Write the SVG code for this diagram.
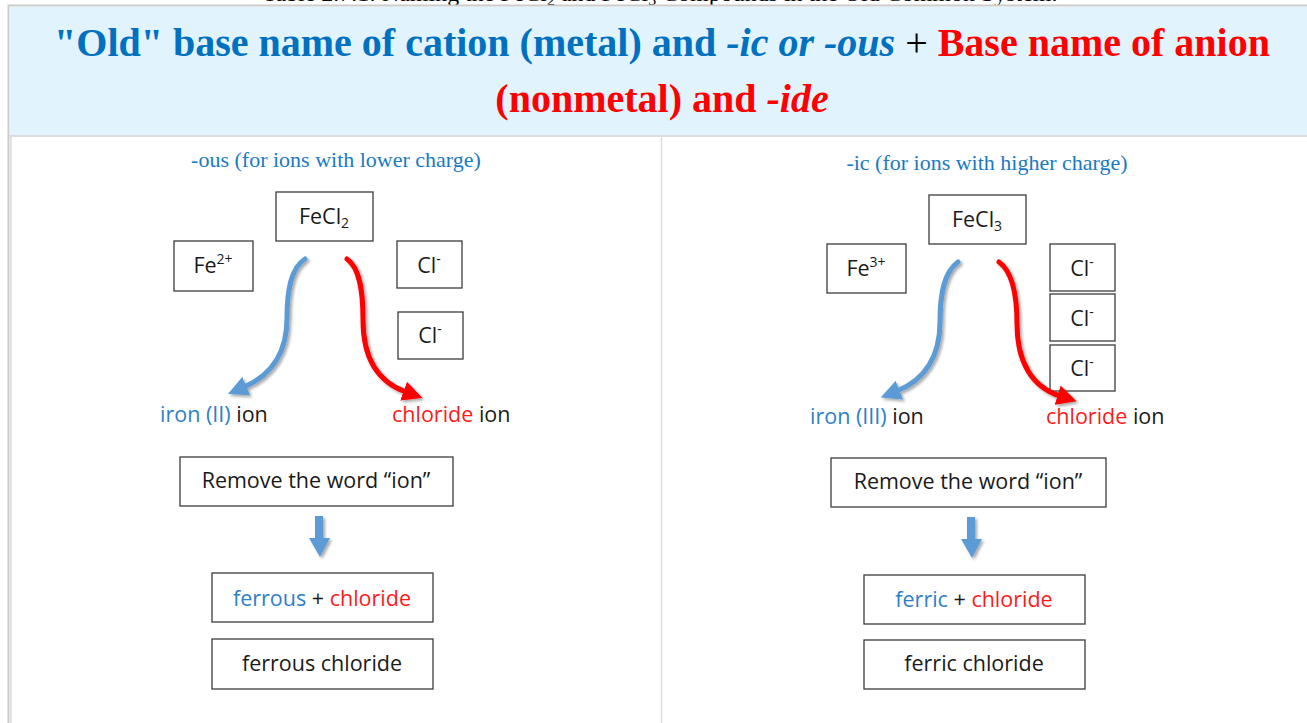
<svg xmlns="http://www.w3.org/2000/svg" width="1307" height="723" viewBox="0 0 1307 723">
<style>
.box{fill:#fff;stroke:#3c3c3c;stroke-width:1.3}
.t{font-family:"Open Sans","Liberation Sans",sans-serif;font-size:21.5px;fill:#1a1a1a}
.sub{font-size:14px}
.blue{fill:#2e7fc8}
.red{fill:#ff1a1a}
.serif{font-family:"Liberation Serif",serif}
.hb{fill:#0070c0}
.hr{fill:#ff0000}
.arrB{fill:none;stroke:#5b9bd5;stroke-width:5;stroke-linecap:round}
.arrR{fill:none;stroke:#ff0000;stroke-width:5;stroke-linecap:round}
</style>
<defs>
<filter id="sh" x="-30%" y="-30%" width="160%" height="160%">
<feDropShadow dx="2" dy="2" stdDeviation="1.8" flood-color="#000" flood-opacity="0.35"/>
</filter>
<marker id="mB" markerUnits="userSpaceOnUse" markerWidth="20" markerHeight="20" refX="2" refY="8" orient="auto" viewBox="0 0 16 16">
<path d="M0,0 L16,8 L0,16 Z" fill="#5b9bd5"/>
</marker>
<marker id="mR" markerUnits="userSpaceOnUse" markerWidth="20" markerHeight="20" refX="2" refY="8" orient="auto" viewBox="0 0 16 16">
<path d="M0,0 L16,8 L0,16 Z" fill="#ff0000"/>
</marker>
</defs>
<rect width="1307" height="723" fill="#fff"/>
<text x="660" y="1" text-anchor="middle" class="serif" font-size="21" fill="#000" textLength="795" lengthAdjust="spacingAndGlyphs">Table 2.7.1: Naming the FeCl<tspan font-size="14" dy="4">2</tspan><tspan dy="-4"> and FeCl</tspan><tspan font-size="14" dy="4">3</tspan><tspan dy="-4"> Compounds in the Old Common System.</tspan></text>
<g id="table">
<rect x="8.5" y="5.5" width="1310" height="740" fill="none" stroke="#cccccc" stroke-width="2"/>
<rect x="9.5" y="7" width="1300" height="128" fill="#e1f3fc"/>
<line x1="9" y1="136" x2="1307" y2="136" stroke="#dddddd" stroke-width="2"/>
<line x1="11" y1="137" x2="11" y2="723" stroke="#e3e3e3" stroke-width="2"/>
<line x1="661.5" y1="137" x2="661.5" y2="723" stroke="#dddddd" stroke-width="1.5"/>
</g>
<g id="header" class="serif" font-weight="bold" font-size="40" text-anchor="middle">
<text x="662" y="56"><tspan class="hb">"Old" base name of cation (metal) and </tspan><tspan class="hb" font-style="italic">-ic or -ous</tspan><tspan fill="#000" font-weight="normal"> + </tspan><tspan class="hr">Base name of anion</tspan></text>
<text x="662" y="112"><tspan class="hr">(nonmetal) and </tspan><tspan class="hr" font-style="italic">-ide</tspan></text>
</g>
<g id="subtitles" class="serif" font-size="22" fill="#1a7ac4" text-anchor="middle">
<text x="336" y="167">-ous (for ions with lower charge)</text>
<text x="987" y="170">-ic (for ions with higher charge)</text>
</g>
<g id="fecl2"><rect class="box" x="276" y="192" width="97" height="49"/><text class="t" x="324" y="224" text-anchor="middle">FeCl<tspan class="sub" dy="4">2</tspan></text></g>
<g id="fe2"><rect class="box" x="174" y="241" width="79" height="50"/><text class="t" x="213" y="273" text-anchor="middle">Fe<tspan class="sub" dy="-9">2+</tspan></text></g>
<g id="cl1"><rect class="box" x="397" y="241" width="65" height="47"/><text class="t" x="429" y="273" text-anchor="middle">Cl<tspan class="sub" dy="-9">-</tspan></text></g>
<g id="cl2"><rect class="box" x="398" y="312" width="65" height="47"/><text class="t" x="430" y="343" text-anchor="middle">Cl<tspan class="sub" dy="-9">-</tspan></text></g>
<g id="ironII"><text class="t" x="160" y="422"><tspan class="blue">iron (II)</tspan> ion</text></g>
<g id="chlorideL"><text class="t" x="392" y="422"><tspan class="red">chloride</tspan> ion</text></g>
<g id="removeL"><rect class="box" x="180" y="457" width="273" height="49"/><text class="t" x="316" y="488" text-anchor="middle">Remove the word “ion”</text></g>
<g id="ferrousPlus"><rect class="box" x="212" y="573" width="221" height="49"/><text class="t" x="322" y="606" text-anchor="middle"><tspan class="blue">ferrous</tspan> + <tspan class="red">chloride</tspan></text></g>
<g id="ferrousChloride"><rect class="box" x="212" y="639" width="221" height="50"/><text class="t" x="322" y="671" text-anchor="middle">ferrous chloride</text></g>
<g id="fecl3"><rect class="box" x="929" y="195" width="97" height="49"/><text class="t" x="977" y="227" text-anchor="middle">FeCl<tspan class="sub" dy="4">3</tspan></text></g>
<g id="fe3"><rect class="box" x="827" y="244" width="79" height="49"/><text class="t" x="866" y="276" text-anchor="middle">Fe<tspan class="sub" dy="-9">3+</tspan></text></g>
<g id="cl3"><rect class="box" x="1050" y="244" width="65" height="47"/><text class="t" x="1082" y="276" text-anchor="middle">Cl<tspan class="sub" dy="-9">-</tspan></text></g>
<g id="cl4"><rect class="box" x="1050" y="294" width="65" height="47"/><text class="t" x="1082" y="326" text-anchor="middle">Cl<tspan class="sub" dy="-9">-</tspan></text></g>
<g id="cl5"><rect class="box" x="1050" y="345" width="65" height="46"/><text class="t" x="1082" y="376" text-anchor="middle">Cl<tspan class="sub" dy="-9">-</tspan></text></g>
<g id="ironIII"><text class="t" x="810" y="424"><tspan class="blue">iron (III)</tspan> ion</text></g>
<g id="chlorideR"><text class="t" x="1046" y="424"><tspan class="red">chloride</tspan> ion</text></g>
<g id="removeR"><rect class="box" x="831" y="458" width="275" height="49"/><text class="t" x="968" y="489" text-anchor="middle">Remove the word “ion”</text></g>
<g id="ferricPlus"><rect class="box" x="864" y="575" width="221" height="49"/><text class="t" x="974" y="607" text-anchor="middle"><tspan class="blue">ferric</tspan> + <tspan class="red">chloride</tspan></text></g>
<g id="ferricChloride"><rect class="box" x="864" y="640" width="221" height="49"/><text class="t" x="974" y="671" text-anchor="middle">ferric chloride</text></g>
<g id="connectors" filter="url(#sh)">
<path class="arrB" d="M305,259 C291,268 287,290 287,318 C287,352 272,375 244,387" marker-end="url(#mB)"/>
<path class="arrR" d="M347,259 C360,268 363,292 363,320 C363,358 378,382 406,392" marker-end="url(#mR)"/>
<path class="arrB" d="M958,262 C944,272 940,294 940,322 C940,356 925,380 897,391" marker-end="url(#mB)"/>
<path class="arrR" d="M999,262 C1013,272 1017,296 1017,324 C1017,362 1032,387 1060,396" marker-end="url(#mR)"/>
<path d="M315,516 H323 V538 H330 L320,557 L309,538 H315 Z" fill="#5b9bd5"/>
<path d="M967,517 H975 V539 H982 L972,558 L961,539 H967 Z" fill="#5b9bd5"/>
</g>
</svg>
